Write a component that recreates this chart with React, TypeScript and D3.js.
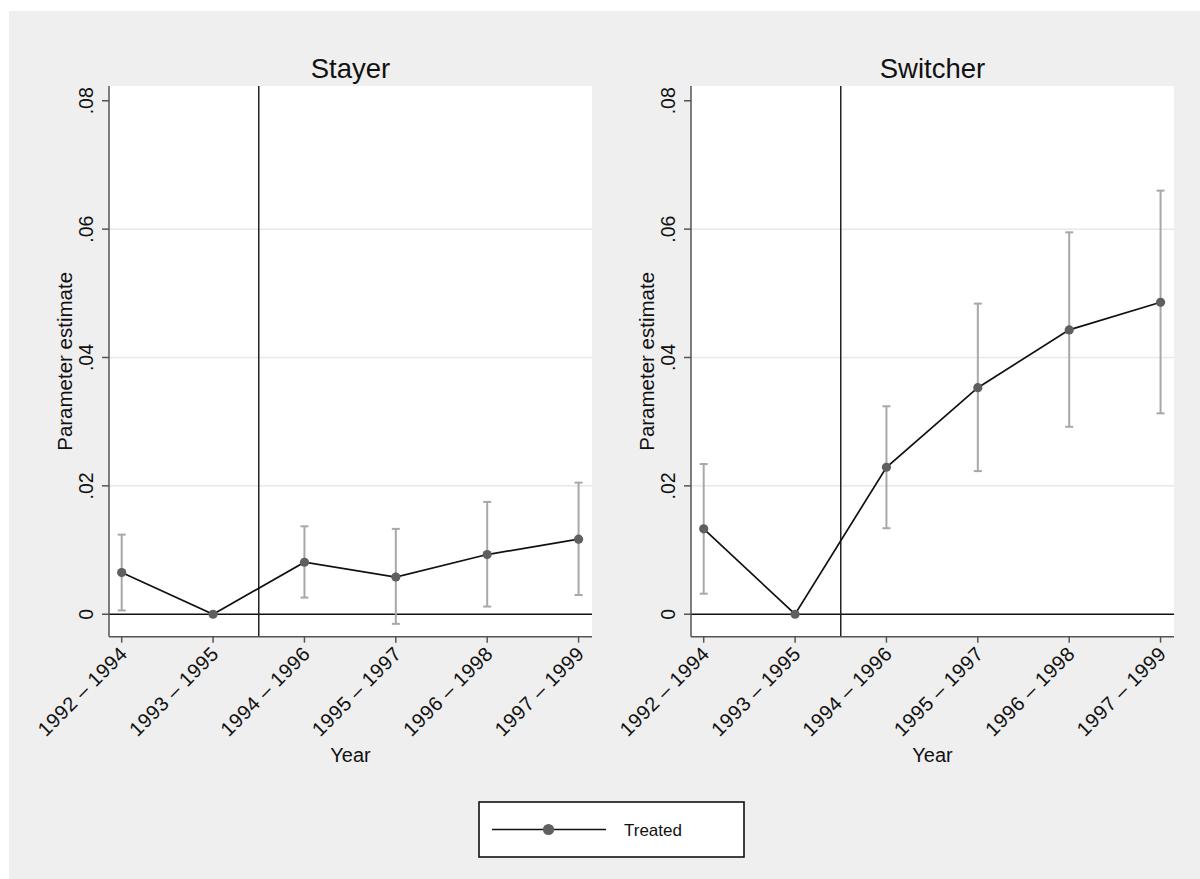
import * as d3 from "d3"

const categories = [
  "1992 – 1994",
  "1993 – 1995",
  "1994 – 1996",
  "1995 – 1997",
  "1996 – 1998",
  "1997 – 1999",
]

const stayerEst = [0.0065, 0, 0.0081, 0.0058, 0.0093, 0.0117]
const stayerLo = [0.0006, 0, 0.0026, -0.0015, 0.0012, 0.003]
const stayerHi = [0.0124, 0, 0.0137, 0.0133, 0.0175, 0.0205]

const switcherEst = [0.0133, 0, 0.0229, 0.0353, 0.0443, 0.0486]
const switcherLo = [0.0032, 0, 0.0134, 0.0223, 0.0292, 0.0313]
const switcherHi = [0.0234, 0, 0.0324, 0.0484, 0.0595, 0.066]

const yTicks = [0, 0.02, 0.04, 0.06, 0.08]
const yTickLabels = ["0", ".02", ".04", ".06", ".08"]
const gridTicks = [0.02, 0.04, 0.06]

const treatStart = 1.5

const font = "'Liberation Sans', Arial, sans-serif"
const top = 86
const bottom = 636.7

type PanelProps = {
  title: string
  est: number[]
  lo: number[]
  hi: number[]
  left: number
  right: number
}

function Panel({ title, est, lo, hi, left, right }: PanelProps) {
  const x = d3.scaleLinear().domain([-0.139, 5.147]).range([left, right])
  const y = d3.scaleLinear().domain([-0.0035, 0.0823]).range([bottom, top])
  const line = d3
    .line<number>()
    .x((_, i) => x(i))
    .y((d) => y(d))
  const cx = (left + right) / 2

  return (
    <g fontFamily={font}>
      <rect x={left} y={top} width={right - left} height={bottom - top} fill="#fff" />
      {gridTicks.map((t) => (
        <line key={t} x1={left} x2={right} y1={y(t)} y2={y(t)} stroke="#e8e8e8" strokeWidth={1.5} />
      ))}
      <line x1={left} x2={right} y1={y(0)} y2={y(0)} stroke="#111" strokeWidth={1.6} />
      <line x1={x(treatStart)} x2={x(treatStart)} y1={top} y2={bottom} stroke="#222" strokeWidth={1.5} />

      {est.map((_, i) =>
        lo[i] === hi[i] ? null : (
          <g key={i} stroke="#a8a8a8" strokeWidth={2}>
            <line x1={x(i)} x2={x(i)} y1={y(lo[i])} y2={y(hi[i])} />
            <line x1={x(i) - 4} x2={x(i) + 4} y1={y(lo[i])} y2={y(lo[i])} />
            <line x1={x(i) - 4} x2={x(i) + 4} y1={y(hi[i])} y2={y(hi[i])} />
          </g>
        ),
      )}
      <path d={line(est) ?? ""} fill="none" stroke="#111" strokeWidth={1.7} />
      {est.map((d, i) => (
        <circle key={i} cx={x(i)} cy={y(d)} r={4.6} fill="#5f5f5f" />
      ))}

      {/* axes */}
      <line x1={left} x2={left} y1={top} y2={bottom} stroke="#555" strokeWidth={1.5} />
      <line x1={left} x2={right} y1={bottom} y2={bottom} stroke="#555" strokeWidth={1.5} />
      {yTicks.map((t, i) => (
        <g key={t}>
          <line x1={left - 7} x2={left} y1={y(t)} y2={y(t)} stroke="#555" strokeWidth={1.5} />
          <text
            transform={`translate(${left - 16},${y(t)}) rotate(-90)`}
            textAnchor="middle"
            fontSize={19.5}
            fill="#111"
          >
            {yTickLabels[i]}
          </text>
        </g>
      ))}
      {categories.map((c, i) => (
        <g key={c}>
          <line x1={x(i)} x2={x(i)} y1={bottom} y2={bottom + 6} stroke="#555" strokeWidth={1.5} />
          <text
            transform={`translate(${x(i) + 2},650) rotate(-45)`}
            textAnchor="end"
            dy="0.35em"
            fontSize={20}
            letterSpacing={0.5}
            fill="#111"
          >
            {c}
          </text>
        </g>
      ))}

      <text x={cx} y={78} textAnchor="middle" fontSize={27.5} fill="#111">
        {title}
      </text>
      <text
        transform={`translate(${left - 37},${(top + bottom) / 2}) rotate(-90)`}
        textAnchor="middle"
        fontSize={20.5}
        fill="#111"
      >
        Parameter estimate
      </text>
      <text x={cx} y={762} textAnchor="middle" fontSize={20} fill="#111">
        Year
      </text>
    </g>
  )
}

export default function App() {
  return (
    <svg
      width={1200}
      height={879}
      viewBox="0 0 1200 879"
      style={{ position: "absolute", left: 0, top: 0 }}
    >
      <rect x={0} y={0} width={1200} height={879} fill="#fff" />
      <rect x={9} y={11} width={1191} height={868} fill="#efefef" />
      <Panel title="Stayer" est={stayerEst} lo={stayerLo} hi={stayerHi} left={109} right={592} />
      <Panel title="Switcher" est={switcherEst} lo={switcherLo} hi={switcherHi} left={691} right={1174} />

      <g fontFamily={font}>
        <rect x={479} y={802} width={265} height={55} fill="#fff" stroke="#111" strokeWidth={1.6} />
        <line x1={492} x2={606} y1={829.5} y2={829.5} stroke="#111" strokeWidth={1.7} />
        <circle cx={548.5} cy={829.5} r={5.6} fill="#5f5f5f" />
        <text x={624} y={835.5} fontSize={17} fill="#111">
          Treated
        </text>
      </g>
    </svg>
  )
}
